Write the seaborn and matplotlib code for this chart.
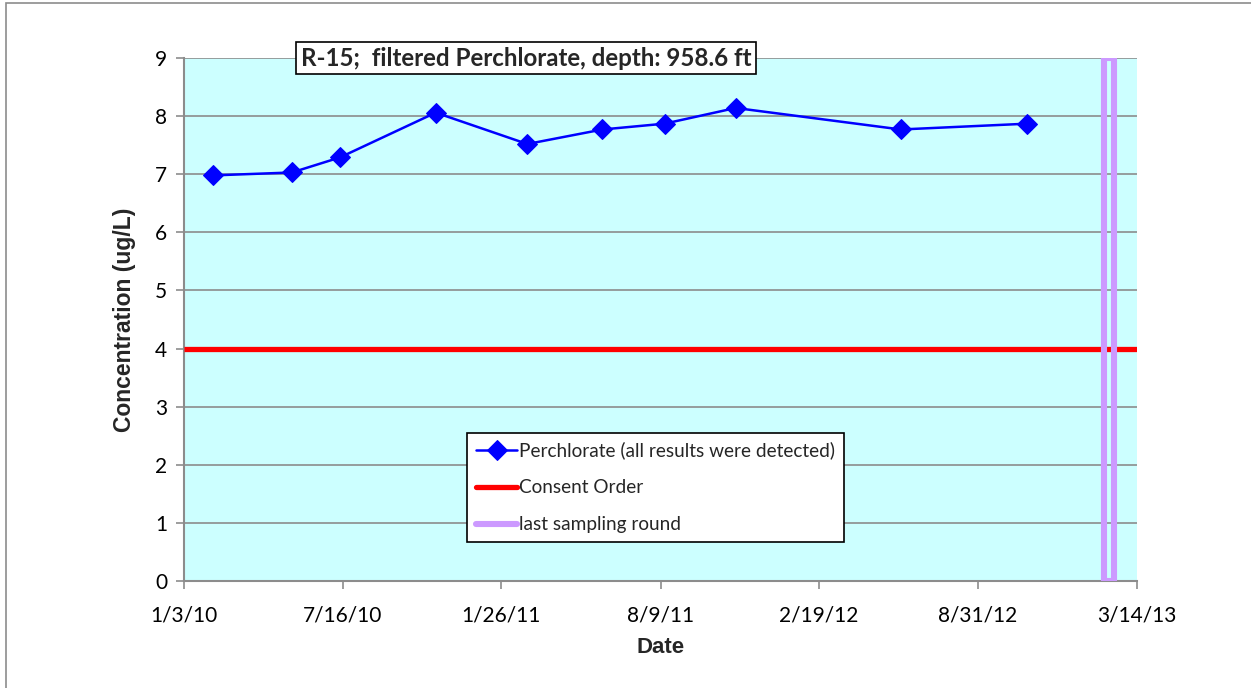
import numpy as np
import pandas as pd
import matplotlib.pyplot as plt
import matplotlib.patches as patches
import seaborn as sns

# sample dates and perchlorate results (ug/L)
sample_dates = ["2010-02-08", "2010-05-15", "2010-07-13", "2010-11-07", "2011-02-27",
                "2011-05-30", "2011-08-14", "2011-11-09", "2012-05-29", "2012-10-31"]
perchlorate = [6.98, 7.03, 7.29, 8.06, 7.52, 7.77, 7.87, 8.14, 7.77, 7.87]

consent_dates = ["2010-01-03", "2013-03-14"]
consent_level = [4, 4]

# last sampling round drawn as a narrow box
last_round_dates = ["2013-02-02", "2013-02-02", "2013-02-14", "2013-02-14", "2013-02-02"]
last_round_y = [0, 9, 9, 0, 0]

tick_dates = ["2010-01-03", "2010-07-16", "2011-01-26", "2011-08-09",
              "2012-02-19", "2012-08-31", "2013-03-14"]
tick_labels = ["1/3/10", "7/16/10", "1/26/11", "8/9/11", "2/19/12", "8/31/12", "3/14/13"]

title_text = "R-15;  filtered Perchlorate, depth: 958.6 ft"

sns.set_theme(style="white")
plt.rcParams["font.family"] = ["Lato", "DejaVu Sans"]

df = pd.DataFrame({"Date": pd.to_datetime(sample_dates), "Conc": perchlorate})
co = pd.DataFrame({"Date": pd.to_datetime(consent_dates), "Conc": consent_level})
lr = pd.DataFrame({"Date": pd.to_datetime(last_round_dates), "Conc": last_round_y})

fig = plt.figure(figsize=(12.51, 6.88), dpi=100)
ax = fig.add_axes([184 / 1251, 1 - 581 / 688, (1137 - 184) / 1251, (581 - 58) / 688])
ax.set_facecolor("#CCFFFF")

grid_c = "#8C8C8C"
ax.set_ylim(0, 9)
ax.set_yticks(range(0, 10))
ax.yaxis.grid(True, color=grid_c, lw=1.2)
ax.set_axisbelow(True)

sns.lineplot(data=co, x="Date", y="Conc", ax=ax, color="#FF0000", lw=3.8,
             solid_capstyle="butt", label="Consent Order", zorder=3)
sns.lineplot(data=lr, x="Date", y="Conc", ax=ax, color="#CC99FF", lw=4.4,
             sort=False, estimator=None, errorbar=None,
             label="last sampling round", zorder=4)
sns.lineplot(data=df, x="Date", y="Conc", ax=ax, color="#0000FF", lw=1.8,
             marker="D", markersize=10, markeredgecolor="#0000FF",
             label="Perchlorate (all results were detected)", zorder=5)

ax.set_xlim(pd.Timestamp(tick_dates[0]), pd.Timestamp(tick_dates[-1]))
ax.set_xticks(pd.to_datetime(tick_dates))
ax.set_xticklabels(tick_labels)

for side in ["top", "right"]:
    ax.spines[side].set_visible(False)
for side in ["left", "bottom"]:
    ax.spines[side].set_color(grid_c)
    ax.spines[side].set_linewidth(1.5)

ax.tick_params(axis="both", which="major", direction="out", length=6, width=1.2,
               color=grid_c, labelsize=15, labelcolor="black",
               bottom=True, left=True)
ax.tick_params(axis="x", pad=12)
ax.tick_params(axis="y", pad=6)

ax.set_xlabel("Date", fontsize=16, fontweight="bold", family="Liberation Sans", labelpad=8)
ax.set_ylabel("Concentration (ug/L)", fontsize=16.5, fontweight="bold",
              family="Liberation Sans", labelpad=14)

# legend in the order of the reference
h, l = ax.get_legend_handles_labels()
order = [l.index("Perchlorate (all results were detected)"),
         l.index("Consent Order"), l.index("last sampling round")]
leg = ax.legend([h[i] for i in order], [l[i] for i in order],
                loc="upper left", bbox_to_anchor=(0.297, 0.283),
                fontsize=13.7, frameon=True, fancybox=False, framealpha=1,
                edgecolor="black", handlelength=2.2, handletextpad=0.1,
                labelspacing=1.05, borderpad=0.45, borderaxespad=0)
leg.get_frame().set_linewidth(1.2)
for line in leg.get_lines():
    line.set_solid_capstyle("round")

ax.text(0.359, 1.0, title_text, transform=ax.transAxes, ha="center", va="center",
        fontsize=17.4, fontweight="bold", zorder=10,
        bbox=dict(boxstyle="square,pad=0.2", fc="white", ec="black", lw=1.2))

# outer chart frame
fig.patches.append(patches.Rectangle((6 / 1251, -0.1), 1.2, 1.1 - 3 / 688,
                                     transform=fig.transFigure, fill=False,
                                     ec="#8C8C8C", lw=1.2))

fig.savefig("out.png", dpi=100, facecolor="white")
